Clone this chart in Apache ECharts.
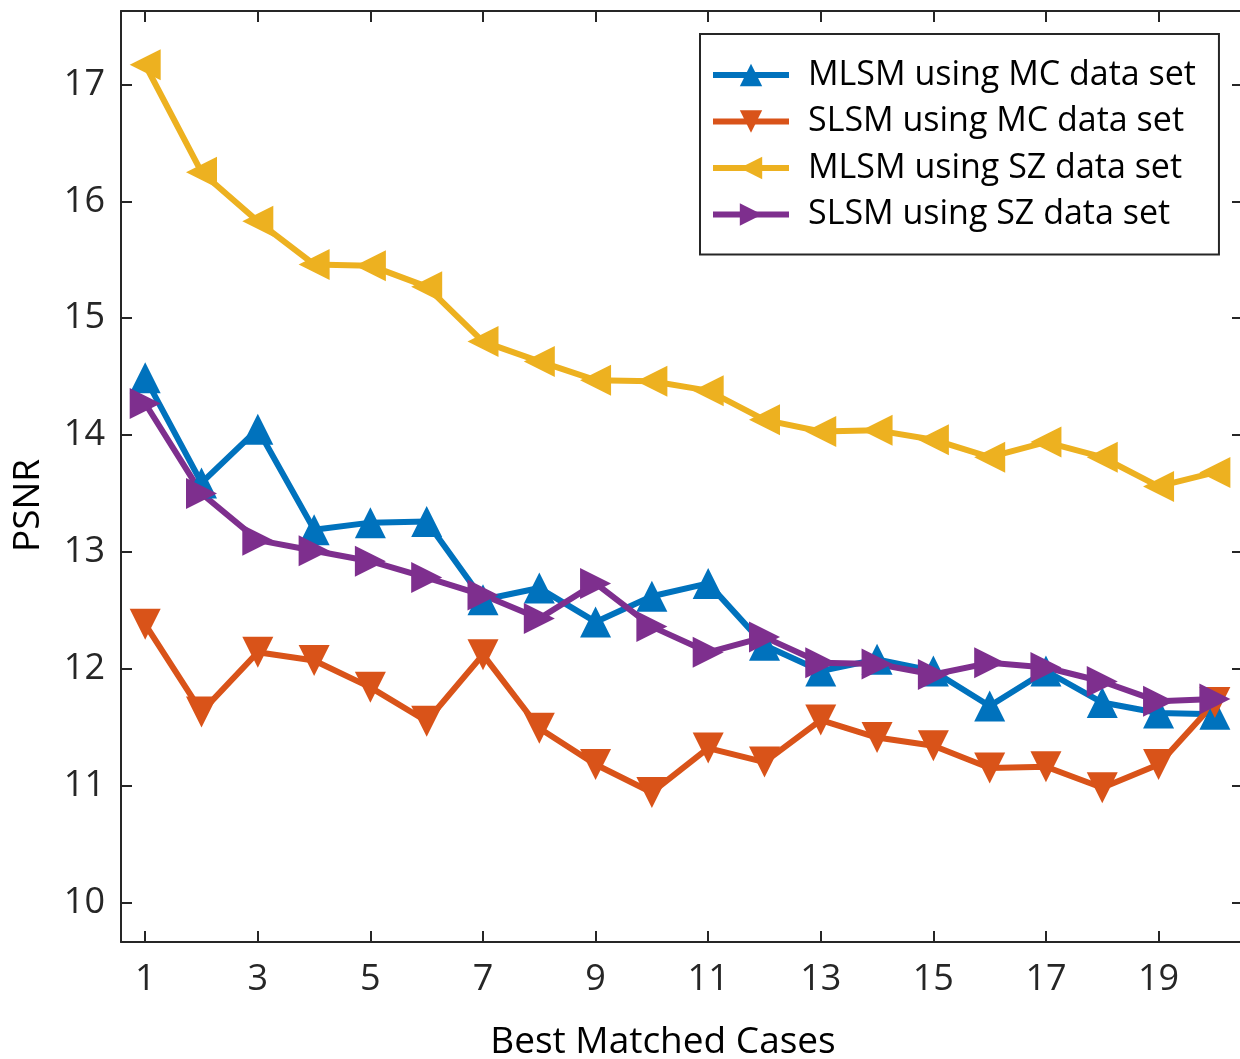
<!DOCTYPE html>
<html>
<head>
<meta charset="utf-8">
<script src="https://cdn.jsdelivr.net/npm/echarts@6/dist/echarts.min.js"></script>
<style>
  html, body { margin: 0; padding: 0; background: #fff; }
  #main { width: 1240px; height: 1059px; }
</style>
</head>
<body>
<div id="main"></div>
<script>
// data
var cases = [1, 2, 3, 4, 5, 6, 7, 8, 9, 10, 11, 12, 13, 14, 15, 16, 17, 18, 19, 20]
var mlsmMC = [14.49, 13.59, 14.05, 13.19, 13.25, 13.26, 12.59, 12.69, 12.40, 12.62, 12.73, 12.20, 11.98, 12.08, 11.98, 11.68, 11.98, 11.71, 11.62, 11.61]
var slsmMC = [12.38, 11.63, 12.14, 12.07, 11.84, 11.55, 12.12, 11.49, 11.18, 10.94, 11.32, 11.20, 11.56, 11.41, 11.34, 11.15, 11.16, 10.98, 11.18, 11.71]
var mlsmSZ = [17.17, 16.25, 15.83, 15.46, 15.45, 15.27, 14.80, 14.63, 14.47, 14.46, 14.38, 14.13, 14.03, 14.04, 13.96, 13.81, 13.94, 13.81, 13.56, 13.68]
var slsmSZ = [14.27, 13.50, 13.10, 13.01, 12.92, 12.78, 12.63, 12.43, 12.73, 12.36, 12.14, 12.27, 12.05, 12.04, 11.95, 12.05, 12.01, 11.89, 11.72, 11.74]
var xTicks = [1, 3, 5, 7, 9, 11, 13, 15, 17, 19]
var yTicks = [10, 11, 12, 13, 14, 15, 16, 17]
var names = ['MLSM using MC data set', 'SLSM using MC data set', 'MLSM using SZ data set', 'SLSM using SZ data set']

var font = '"Open Sans", "Noto Sans", sans-serif'
var axisColor = '#262626'

function pairs(vals) {
  return vals.map(function (v, i) { return [cases[i], v] })
}

function makeSeries(name, vals, color, rot) {
  return {
    name: name,
    type: 'line',
    data: pairs(vals),
    symbol: 'triangle',
    symbolSize: 31,
    symbolRotate: rot,
    lineStyle: { color: color, width: 6 },
    itemStyle: { color: color },
    emphasis: { disabled: true },
    animation: false
  }
}

var chart = echarts.init(document.getElementById('main'))

var xBase = {
  type: 'value',
  min: 0.57,
  max: 20.5,
  axisLine: { show: true, lineStyle: { color: axisColor, width: 2 } },
  axisTick: { show: true, inside: true, length: 11, customValues: xTicks, lineStyle: { color: axisColor, width: 2 } },
  splitLine: { show: false }
}
var yBase = {
  type: 'value',
  min: 9.66,
  max: 17.63,
  axisLine: { show: true, lineStyle: { color: axisColor, width: 2 } },
  axisTick: { show: true, inside: true, length: 11, customValues: yTicks, lineStyle: { color: axisColor, width: 2 } },
  splitLine: { show: false }
}

chart.setOption({
  backgroundColor: '#fff',
  grid: { left: 121, top: 11, right: -3, bottom: 117, outerBoundsMode: 'none' },
  legend: {
    data: names,
    orient: 'vertical',
    left: 700,
    top: 34,
    itemWidth: 76,
    itemHeight: 28,
    itemGap: 12.5,
    padding: [24, 23, 23, 10],
    borderColor: axisColor,
    borderWidth: 2,
    backgroundColor: '#fff',
    lineStyle: { width: 6 },
    textStyle: { fontFamily: font, fontSize: 34, color: '#000', padding: [0, 0, 0, 14] }
  },
  xAxis: [
    Object.assign({}, xBase, {
      position: 'bottom',
      name: 'Best Matched Cases',
      nameLocation: 'middle',
      nameGap: 82,
      nameTextStyle: { fontFamily: font, fontSize: 37, color: '#000', padding: [0, 38, 0, 0] },
      axisLabel: { show: true, customValues: xTicks, margin: 20, fontFamily: font, fontSize: 36, color: axisColor }
    }),
    Object.assign({}, xBase, { position: 'top', axisLabel: { show: false } })
  ],
  yAxis: [
    Object.assign({}, yBase, {
      position: 'left',
      name: 'PSNR',
      nameLocation: 'middle',
      nameGap: 74,
      nameTextStyle: { fontFamily: font, fontSize: 37, color: '#000', padding: [0, 58, 0, 0] },
      axisLabel: { show: true, customValues: yTicks, margin: 16, fontFamily: font, fontSize: 36, color: axisColor }
    }),
    Object.assign({}, yBase, { position: 'right', axisLabel: { show: false } })
  ],
  series: [
    makeSeries(names[0], mlsmMC, '#0072BD', 0),
    makeSeries(names[1], slsmMC, '#D95319', 180),
    makeSeries(names[2], mlsmSZ, '#EDB120', 90),
    makeSeries(names[3], slsmSZ, '#7E2F8E', -90)
  ]
})
</script>
</body>
</html>
